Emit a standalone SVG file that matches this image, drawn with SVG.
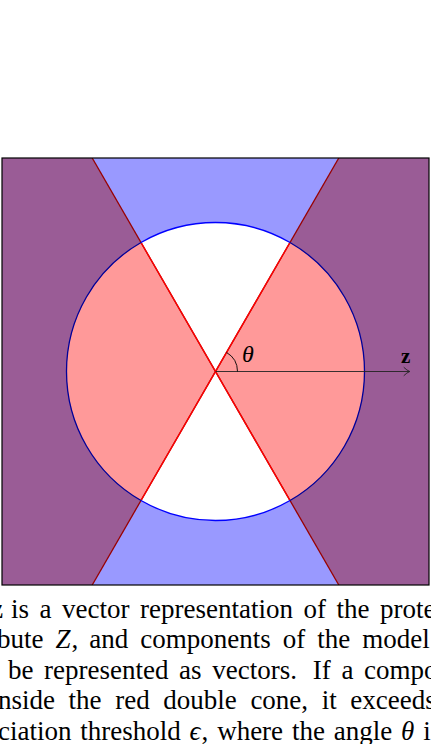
<svg xmlns="http://www.w3.org/2000/svg" width="431" height="744" viewBox="0 0 431 744">
<defs>
<style>
.cap{font-family:"Liberation Serif","Times New Roman",serif;font-size:27px;fill:#000}
.it{font-style:italic}
.bf{font-weight:bold}
.lbl{font-family:"Liberation Serif","Times New Roman",serif;fill:#000}
</style>
<clipPath id="frameClip"><rect x="2" y="158" width="427" height="427"/></clipPath>
<clipPath id="circClip"><circle cx="215.5" cy="371.5" r="149"/></clipPath>
</defs>
<rect width="431" height="744" fill="#fff"/>
<g id="figure" clip-path="url(#frameClip)">
<rect id="bg" x="2" y="158" width="427" height="427" fill="#9A5C96"/>
<g id="blue-cone" fill="#9999FF">
<polygon points="215.5,371.5 92.2,158 338.8,158"/>
<polygon points="215.5,371.5 92.2,585 338.8,585"/>
</g>
<circle id="disk" cx="215.5" cy="371.5" r="149" fill="#FF9999"/>
<g id="white-cone" fill="#fff" clip-path="url(#circClip)">
<polygon points="215.5,371.5 92.2,158 338.8,158"/>
<polygon points="215.5,371.5 92.2,585 338.8,585"/>
</g>
<g id="cone-lines" fill="none" stroke-width="1.3">
<line x1="92.2" y1="158" x2="338.8" y2="585" stroke="#990000"/>
<line x1="338.8" y1="158" x2="92.2" y2="585" stroke="#990000"/>
<g clip-path="url(#circClip)" stroke="#FF0000">
<line x1="92.2" y1="158" x2="338.8" y2="585"/>
<line x1="338.8" y1="158" x2="92.2" y2="585"/>
</g>
</g>
<g id="circle-outline" fill="none" stroke-width="1.3">
<path d="M141,242.46 A149,149 0 0 1 290,242.46" stroke="#0000FF"/>
<path d="M290,500.54 A149,149 0 0 1 141,500.54" stroke="#0000FF"/>
<path d="M290,242.46 A149,149 0 0 1 290,500.54" stroke="#000099"/>
<path d="M141,500.54 A149,149 0 0 1 141,242.46" stroke="#000099"/>
</g>
</g>
<g id="connectors" fill="none" stroke="#222" stroke-width="0.9">
<line id="z-axis" x1="215.5" y1="371.5" x2="409.5" y2="371.5"/>
<path d="M404,367.5 Q407,370.5 409.8,371.5 Q407,372.5 404,375.5" stroke-linecap="round"/>
<path id="angle-arc" d="M237.5,371.5 A22,22 0 0 0 226.5,352.45" stroke="#000"/>
</g>
<g id="labels">
<text class="lbl it" x="242" y="362" font-size="24">θ</text>
<text class="lbl bf" x="401" y="363" font-size="21">z</text>
</g>
<rect id="frame" x="2" y="158" width="427" height="427" fill="none" stroke="#000" stroke-width="1.2"/>
<g id="caption" class="cap">
<text y="618"><tspan class="bf" x="-9">z</tspan><tspan x="11">is</tspan><tspan x="39.5">a</tspan><tspan x="62">vector</tspan><tspan x="140">representation</tspan><tspan x="303.5">of</tspan><tspan x="336.5">the</tspan><tspan x="380">prote</tspan></text>
<text y="648"><tspan x="-3">bute</tspan><tspan class="it" x="55.5">Z</tspan><tspan x="71.5">,</tspan><tspan x="89.25">and</tspan><tspan x="140.25">components</tspan><tspan x="282.75">of</tspan><tspan x="317.25">the</tspan><tspan x="362.25">model</tspan></text>
<text y="678.5"><tspan x="8">be</tspan><tspan x="44.1">represented</tspan><tspan x="179.1">as</tspan><tspan x="212.2">vectors.</tspan><tspan x="312.8">If</tspan><tspan x="341.4">a</tspan><tspan x="364">compo</tspan></text>
<text y="709"><tspan x="-2">nside</tspan><tspan x="68.6">the</tspan><tspan x="115.2">red</tspan><tspan x="163.3">double</tspan><tspan x="250.4">cone,</tspan><tspan x="321.7">it</tspan><tspan x="350.3">exceeds</tspan></text>
<text y="739.5"><tspan x="-2">ciation</tspan><tspan x="80.3">threshold</tspan><tspan class="it" x="189.6">ϵ</tspan><tspan x="201.6">,</tspan><tspan x="217.15">where</tspan><tspan x="291.95">the</tspan><tspan x="333.75">angle</tspan><tspan class="it" x="401.05">θ</tspan><tspan x="423.35">i</tspan></text>
</g>
</svg>
